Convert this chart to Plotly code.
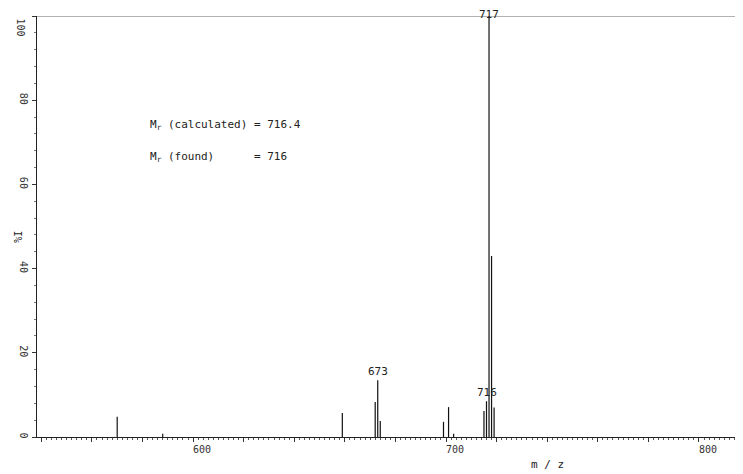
import plotly.graph_objects as go

# m/z of each peak and its relative intensity (%)
mz = [570, 588, 659, 672, 673, 674, 699, 701, 703, 715, 716, 717, 718, 719]
intensity = [4.8, 0.8, 5.7, 8.3, 13.5, 3.8, 3.6, 7.1, 0.8, 6.2, 8.5, 100, 43, 7]

peak_labels = ["673", "716", "717"]
peak_label_mz = [673, 716, 717]
peak_label_y = [13.5, 8.5, 100]

x_label_vals = [600, 700, 800]
x_major_ticks = list(range(540, 820, 20))
y_ticks = [0, 20, 40, 60, 80, 100]

FONT = "DejaVu Sans Mono"

xs, ys = [], []
for m, h in zip(mz, intensity):
    xs += [m, m, None]
    ys += [0, h, None]

fig = go.Figure()
fig.add_trace(go.Scatter(x=xs, y=ys, mode="lines",
                         line=dict(color="#111", width=1.2),
                         hoverinfo="skip", showlegend=False))

annotations = []
for t, m, h in zip(peak_labels, peak_label_mz, peak_label_y):
    annotations.append(dict(x=m, y=h, text=t, showarrow=False, yanchor="bottom",
                            xanchor="center", yshift=-7 if h >= 100 else 0,
                            font=dict(family=FONT, size=11, color="#222")))
for v in x_label_vals:
    annotations.append(dict(x=v, y=0, yref="y", text=str(v), showarrow=False,
                            xanchor="left", yanchor="top", yshift=-5, xshift=-2,
                            font=dict(family=FONT, size=10, color="#333")))
# the top y tick label sits just below its tick
annotations.append(dict(x=0, xref="paper", y=100, yref="y", text=str(y_ticks[-1]),
                        showarrow=False, textangle=90, xanchor="right", yanchor="top",
                        xshift=-9, font=dict(family=FONT, size=10, color="#333")))
annotations.append(dict(x=740, xref="x", y=-0.066, yref="paper", text="m / z", showarrow=False,
                        xanchor="center", yanchor="middle",
                        font=dict(family=FONT, size=11, color="#222")))
annotations.append(dict(x=-0.037, xref="paper", y=47.5, yref="y", text="I%", showarrow=False,
                        textangle=90, font=dict(family=FONT, size=10, color="#222")))
annotations.append(dict(x=582, y=74.1, text="M<sub>r</sub> (calculated) = 716.4", showarrow=False,
                        xanchor="left", yanchor="middle",
                        font=dict(family=FONT, size=11, color="#222")))
annotations.append(dict(x=582, y=66.5, text="M<sub>r</sub> (found)      = 716", showarrow=False,
                        xanchor="left", yanchor="middle",
                        font=dict(family=FONT, size=11, color="#222")))

fig.update_layout(
    width=735, height=466,
    margin=dict(l=29, r=0, t=8, b=37),
    paper_bgcolor="white", plot_bgcolor="white",
    annotations=annotations,
    xaxis=dict(range=[538.3, 817.4], showgrid=False, zeroline=False,
               showline=True, linecolor="#222", linewidth=1,
               tickmode="array", tickvals=x_major_ticks, showticklabels=False,
               ticks="outside", ticklen=4, tickcolor="#333",
               minor=dict(dtick=2, tick0=540, ticks="outside", ticklen=2, tickcolor="#555")),
    yaxis=dict(range=[0, 100], showgrid=False, zeroline=False,
               showline=True, linecolor="#222", linewidth=1,
               tickmode="array", tickvals=y_ticks,
               ticktext=[str(v) for v in y_ticks[:-1]] + [" "],
               ticks="outside", ticklen=4, tickcolor="#333", tickangle=90,
               tickfont=dict(family=FONT, size=10, color="#333"),
               minor=dict(dtick=4, ticks="outside", ticklen=2, tickcolor="#777")),
    shapes=[dict(type="line", xref="paper", yref="y", x0=0, x1=1, y0=100, y1=100,
                 line=dict(color="#666", width=1))],
)

fig.write_html("out.html")
